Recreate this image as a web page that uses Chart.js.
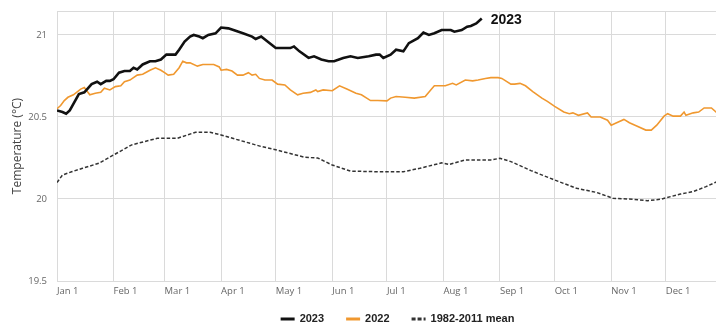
<!DOCTYPE html>
<html>
<head>
<meta charset="utf-8">
<script src="https://cdn.jsdelivr.net/npm/chart.js@4/dist/chart.umd.min.js"></script>
<style>
  html, body { margin: 0; padding: 0; background: #fff; }
  #wrap { width: 716px; height: 324px; position: relative; }
</style>
</head>
<body>
<div id="wrap"><canvas id="c" width="716" height="324"></canvas></div>
<script>
// Day-of-year positions of the month ticks and their labels
const monthStarts = [0, 31, 59, 90, 120, 151, 181, 212, 243, 273, 304, 334];
const monthLabels = ['Jan 1', 'Feb 1', 'Mar 1', 'Apr 1', 'May 1', 'Jun 1', 'Jul 1', 'Aug 1', 'Sep 1', 'Oct 1', 'Nov 1', 'Dec 1'];
const yTicks = [19.5, 20, 20.5, 21];

// 2023 daily sea surface temperature (day of year, °C)
const days2023 = [0, 3, 5, 7, 10, 12, 15, 19, 22, 24, 27, 29, 31, 34, 37, 40, 42, 44, 47, 51, 54, 57, 60, 65, 67, 70, 73, 75, 78, 80, 83, 87, 90, 94, 98, 102, 107, 109, 112, 116, 120, 128, 130, 133, 138, 141, 145, 149, 152, 157, 161, 165, 171, 175, 177, 179, 183, 186, 190, 193, 198, 201, 204, 207, 211, 216, 218, 222, 225, 227, 230, 233];
const temps2023 = [20.54, 20.53, 20.52, 20.54, 20.60, 20.64, 20.65, 20.70, 20.715, 20.70, 20.72, 20.72, 20.73, 20.77, 20.78, 20.78, 20.80, 20.79, 20.82, 20.84, 20.84, 20.85, 20.88, 20.88, 20.91, 20.96, 20.99, 21.00, 20.99, 20.98, 21.00, 21.01, 21.045, 21.04, 21.025, 21.01, 20.99, 20.975, 20.99, 20.955, 20.92, 20.92, 20.93, 20.90, 20.86, 20.87, 20.85, 20.84, 20.84, 20.86, 20.87, 20.86, 20.87, 20.88, 20.88, 20.86, 20.88, 20.91, 20.90, 20.95, 20.98, 21.015, 21.00, 21.01, 21.03, 21.03, 21.02, 21.03, 21.05, 21.055, 21.07, 21.10];

// 2022 daily sea surface temperature
const days2022 = [0, 2, 4, 6, 9, 13, 15, 16, 18, 21, 24, 26, 29, 32, 35, 37, 40, 44, 47, 51, 54, 57, 59, 61, 64, 67, 69, 71, 73, 77, 80, 86, 89, 90, 93, 96, 99, 102, 105, 107, 109, 111, 114, 118, 121, 125, 128, 132, 135, 139, 142, 143, 146, 151, 155, 159, 164, 167, 172, 176, 181, 183, 186, 191, 196, 202, 205, 207, 213, 217, 219, 224, 228, 231, 235, 238, 242, 244, 249, 251, 254, 257, 261, 266, 269, 273, 278, 281, 283, 286, 291, 293, 298, 302, 304, 307, 311, 314, 318, 323, 326, 329, 333, 335, 338, 342, 344, 345, 349, 352, 355, 359, 362];
const temps2022 = [20.55, 20.57, 20.60, 20.62, 20.635, 20.67, 20.68, 20.665, 20.635, 20.645, 20.65, 20.675, 20.665, 20.685, 20.69, 20.715, 20.725, 20.755, 20.76, 20.785, 20.80, 20.785, 20.77, 20.755, 20.76, 20.80, 20.84, 20.83, 20.83, 20.81, 20.82, 20.82, 20.805, 20.785, 20.79, 20.78, 20.755, 20.755, 20.77, 20.755, 20.76, 20.735, 20.725, 20.725, 20.70, 20.695, 20.665, 20.635, 20.645, 20.65, 20.665, 20.655, 20.665, 20.66, 20.69, 20.67, 20.645, 20.635, 20.60, 20.60, 20.598, 20.615, 20.625, 20.62, 20.615, 20.625, 20.665, 20.69, 20.69, 20.705, 20.695, 20.725, 20.72, 20.725, 20.735, 20.74, 20.74, 20.735, 20.70, 20.70, 20.705, 20.69, 20.655, 20.615, 20.595, 20.565, 20.53, 20.52, 20.525, 20.51, 20.525, 20.50, 20.50, 20.48, 20.45, 20.465, 20.485, 20.465, 20.445, 20.42, 20.42, 20.45, 20.505, 20.52, 20.505, 20.505, 20.53, 20.51, 20.525, 20.53, 20.555, 20.555, 20.525];

// 1982-2011 climatological mean
const daysMean = [0, 3, 8, 14, 23, 31, 41, 48, 55, 66, 76, 84, 90, 101, 112, 120, 127, 136, 143, 151, 161, 177, 190, 199, 211, 215, 224, 238, 243, 249, 260, 272, 285, 296, 305, 316, 324, 331, 342, 349, 356, 362];
const tempsMean = [20.10, 20.146, 20.166, 20.187, 20.218, 20.268, 20.33, 20.35, 20.37, 20.37, 20.407, 20.407, 20.39, 20.355, 20.32, 20.30, 20.28, 20.254, 20.25, 20.207, 20.17, 20.166, 20.166, 20.187, 20.22, 20.21, 20.238, 20.238, 20.248, 20.228, 20.173, 20.12, 20.065, 20.04, 20.004, 19.998, 19.99, 19.998, 20.03, 20.045, 20.075, 20.105];

const toPoints = (xs, ys) => xs.map((x, i) => ({ x, y: ys[i] }));

const gridColor = '#dadada';
const tickFont = { family: '"Open Sans", sans-serif', size: 9.5 };

// Bold label at the end of the 2023 line
const endLabel = {
  id: 'endLabel',
  afterDatasetsDraw(chart) {
    const meta = chart.getDatasetMeta(0);
    const last = meta.data[meta.data.length - 1];
    const ctx = chart.ctx;
    ctx.save();
    ctx.font = 'bold 14px "Liberation Sans", Arial, sans-serif';
    ctx.fillStyle = '#111';
    ctx.textAlign = 'left';
    ctx.textBaseline = 'middle';
    ctx.fillText(chart.data.datasets[0].label, last.x + 9, last.y + 1.5);
    ctx.restore();
  }
};

// Legend row under the x axis
const lineLegend = {
  id: 'lineLegend',
  afterDraw(chart) {
    const ctx = chart.ctx;
    const sets = chart.data.datasets;
    ctx.save();
    ctx.font = 'bold 11px "Liberation Sans", Arial, sans-serif';
    const sample = 14, gap = 5, spacing = 22;
    const widths = sets.map(d => ctx.measureText(d.label).width);
    const total = widths.reduce((a, w) => a + sample + gap + w, 0) + spacing * (sets.length - 1);
    let x = 397.5 - total / 2;
    const y = 319;
    sets.forEach((d, i) => {
      ctx.beginPath();
      ctx.strokeStyle = d.borderColor;
      ctx.lineWidth = 3;
      ctx.setLineDash(d.borderDash ? [4, 2] : []);
      ctx.moveTo(x, y);
      ctx.lineTo(x + sample, y);
      ctx.stroke();
      ctx.setLineDash([]);
      ctx.fillStyle = '#222';
      ctx.textAlign = 'left';
      ctx.textBaseline = 'middle';
      ctx.fillText(d.label, x + sample + gap, y);
      x += sample + gap + widths[i] + spacing;
    });
    ctx.restore();
  }
};

new Chart(document.getElementById('c'), {
  type: 'line',
  data: {
    datasets: [
      { label: '2023', data: toPoints(days2023, temps2023), borderColor: '#111111', borderWidth: 2.6 },
      { label: '2022', data: toPoints(days2022, temps2022), borderColor: '#f0982f', borderWidth: 1.6 },
      { label: '1982-2011 mean', data: toPoints(daysMean, tempsMean), borderColor: '#333333', borderWidth: 1.5, borderDash: [3.5, 2] }
    ]
  },
  options: {
    responsive: false,
    devicePixelRatio: 1,
    animation: false,
    layout: { padding: { top: 11, right: 0, left: 0, bottom: 0 } },
    elements: { point: { radius: 0 }, line: { tension: 0 } },
    plugins: { legend: { display: false }, tooltip: { enabled: false } },
    scales: {
      x: {
        type: 'linear',
        min: 0,
        max: 361.5,
        afterBuildTicks: s => { s.ticks = monthStarts.map(v => ({ value: v })); },
        afterFit: s => { s.height = 43; s.paddingLeft = 0; s.paddingRight = 0; },
        ticks: {
          autoSkip: false,
          maxRotation: 0,
          align: 'start',
          padding: 5,
          color: '#666',
          font: tickFont,
          callback: v => monthLabels[monthStarts.indexOf(v)]
        },
        grid: { color: gridColor, drawTicks: false },
        border: { color: gridColor }
      },
      y: {
        min: 19.5,
        max: 21.146,
        afterBuildTicks: s => { s.ticks = yTicks.concat([21.146]).map(v => ({ value: v })); },
        afterFit: s => { s.width = 57; s.paddingTop = 0; s.paddingBottom = 0; },
        ticks: {
          padding: 10,
          color: '#666',
          font: tickFont,
          callback: v => (yTicks.includes(v) ? String(v) : '')
        },
        grid: { color: gridColor, drawTicks: false },
        border: { color: gridColor },
        title: {
          display: true,
          text: 'Temperature (°C)',
          color: '#444',
          font: { family: '"Open Sans", sans-serif', size: 12 },
          padding: { top: 10, bottom: 0 }
        }
      }
    }
  },
  plugins: [endLabel, lineLegend]
});
</script>
</body>
</html>
